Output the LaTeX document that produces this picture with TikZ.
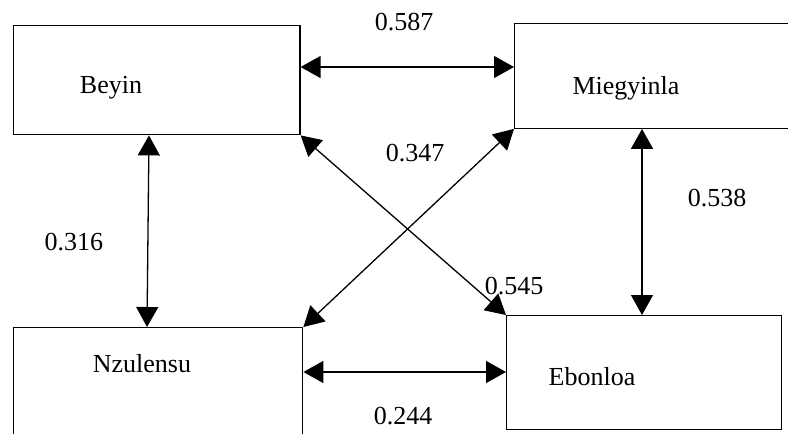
\documentclass[tikz,border=0pt]{standalone}
\usepackage{fontspec}
\setmainfont{Liberation Serif}
\usetikzlibrary{arrows.meta}
\begin{document}
\begin{tikzpicture}[x=1pt,y=-1pt,
  box/.style={draw, line width=1.4pt, rectangle, anchor=north west, inner sep=0pt},
  txt/.style={font=\fontsize{26}{30}\selectfont, inner sep=0pt},
  conn/.style={line width=1.3pt, {Triangle[length=20pt,width=22pt]}-{Triangle[length=20pt,width=22pt]}}]
\useasboundingbox (0,0) rectangle (788,434);
\clip (0,0) rectangle (788,434);
\fill[white] (0,0) rectangle (788,434);
% boxes
\node[box, minimum width=286.5pt, minimum height=109pt] (beyin) at (12.7,25) {};
\node[box, minimum width=290pt, minimum height=105pt] (mieg) at (514,22.5) {};
\node[box, minimum width=289pt, minimum height=130pt] (nzul) at (13,327) {};
\node[box, minimum width=275pt, minimum height=114pt] (ebon) at (506,315) {};
% box texts
\node[txt] (tbeyin) at (111,88) {Beyin};
\node[txt] (tmieg) at (626,88) {Miegyinla};
\node[txt] (tnzul) at (142,364) {Nzulensu};
\node[txt] (tebon) at (592,377) {Ebonloa};
% connectors
\draw[conn] (beyin.east |- 0,67) -- (mieg.west |- 0,67);
\draw[conn] (beyin.south -| 149,0) -- (nzul.north -| 147,0);
\draw[conn] (mieg.south -| 642,0) -- (ebon.north -| 642,0);
\draw[conn] (nzul.east |- 0,372) -- (ebon.west |- 0,372);
\draw[conn] (beyin.south east) -- (ebon.north west);
\draw[conn] (mieg.south west) -- (nzul.north east);
% labels
\node[txt] (l587) at (404,22) {0.587};
\node[txt] (l347) at (415,153) {0.347};
\node[txt] (l538) at (717,198) {0.538};
\node[txt] (l316) at (74,242) {0.316};
\node[txt] (l545) at (514,286) {0.545};
\node[txt] (l244) at (403,416) {0.244};
\end{tikzpicture}
\end{document}
